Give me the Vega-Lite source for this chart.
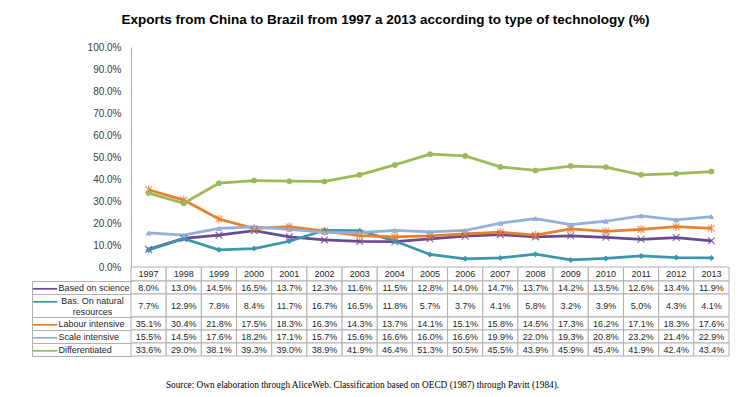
{
  "$schema": "https://vega.github.io/schema/vega-lite/v6.json",
  "background": "white",
  "padding": {"left": 31, "top": 12, "right": 5, "bottom": 5},
  "bounds": "flush",
  "spacing": 0,
  "title": {"text": "Exports from China to Brazil from 1997 a 2013 according to type of technology (%)", "font": "Liberation Sans", "fontSize": 13.5, "fontWeight": "bold", "color": "#000000", "anchor": "middle", "offset": 16, "dx": 5},
  "config": {"view": {"stroke": null}, "font": "Liberation Sans"},
  "datasets": {
    "d": [
      {"series": "Based on science", "year": "1997", "value": 0.080},
      {"series": "Based on science", "year": "1998", "value": 0.130},
      {"series": "Based on science", "year": "1999", "value": 0.145},
      {"series": "Based on science", "year": "2000", "value": 0.165},
      {"series": "Based on science", "year": "2001", "value": 0.137},
      {"series": "Based on science", "year": "2002", "value": 0.123},
      {"series": "Based on science", "year": "2003", "value": 0.116},
      {"series": "Based on science", "year": "2004", "value": 0.115},
      {"series": "Based on science", "year": "2005", "value": 0.128},
      {"series": "Based on science", "year": "2006", "value": 0.140},
      {"series": "Based on science", "year": "2007", "value": 0.147},
      {"series": "Based on science", "year": "2008", "value": 0.137},
      {"series": "Based on science", "year": "2009", "value": 0.142},
      {"series": "Based on science", "year": "2010", "value": 0.135},
      {"series": "Based on science", "year": "2011", "value": 0.126},
      {"series": "Based on science", "year": "2012", "value": 0.134},
      {"series": "Based on science", "year": "2013", "value": 0.119},
      {"series": "Bas. On natural resources", "year": "1997", "value": 0.077},
      {"series": "Bas. On natural resources", "year": "1998", "value": 0.129},
      {"series": "Bas. On natural resources", "year": "1999", "value": 0.078},
      {"series": "Bas. On natural resources", "year": "2000", "value": 0.084},
      {"series": "Bas. On natural resources", "year": "2001", "value": 0.117},
      {"series": "Bas. On natural resources", "year": "2002", "value": 0.167},
      {"series": "Bas. On natural resources", "year": "2003", "value": 0.165},
      {"series": "Bas. On natural resources", "year": "2004", "value": 0.118},
      {"series": "Bas. On natural resources", "year": "2005", "value": 0.057},
      {"series": "Bas. On natural resources", "year": "2006", "value": 0.037},
      {"series": "Bas. On natural resources", "year": "2007", "value": 0.041},
      {"series": "Bas. On natural resources", "year": "2008", "value": 0.058},
      {"series": "Bas. On natural resources", "year": "2009", "value": 0.032},
      {"series": "Bas. On natural resources", "year": "2010", "value": 0.039},
      {"series": "Bas. On natural resources", "year": "2011", "value": 0.050},
      {"series": "Bas. On natural resources", "year": "2012", "value": 0.043},
      {"series": "Bas. On natural resources", "year": "2013", "value": 0.041},
      {"series": "Labour intensive", "year": "1997", "value": 0.351},
      {"series": "Labour intensive", "year": "1998", "value": 0.304},
      {"series": "Labour intensive", "year": "1999", "value": 0.218},
      {"series": "Labour intensive", "year": "2000", "value": 0.175},
      {"series": "Labour intensive", "year": "2001", "value": 0.183},
      {"series": "Labour intensive", "year": "2002", "value": 0.163},
      {"series": "Labour intensive", "year": "2003", "value": 0.143},
      {"series": "Labour intensive", "year": "2004", "value": 0.137},
      {"series": "Labour intensive", "year": "2005", "value": 0.141},
      {"series": "Labour intensive", "year": "2006", "value": 0.151},
      {"series": "Labour intensive", "year": "2007", "value": 0.158},
      {"series": "Labour intensive", "year": "2008", "value": 0.145},
      {"series": "Labour intensive", "year": "2009", "value": 0.173},
      {"series": "Labour intensive", "year": "2010", "value": 0.162},
      {"series": "Labour intensive", "year": "2011", "value": 0.171},
      {"series": "Labour intensive", "year": "2012", "value": 0.183},
      {"series": "Labour intensive", "year": "2013", "value": 0.176},
      {"series": "Scale intensive", "year": "1997", "value": 0.155},
      {"series": "Scale intensive", "year": "1998", "value": 0.145},
      {"series": "Scale intensive", "year": "1999", "value": 0.176},
      {"series": "Scale intensive", "year": "2000", "value": 0.182},
      {"series": "Scale intensive", "year": "2001", "value": 0.171},
      {"series": "Scale intensive", "year": "2002", "value": 0.157},
      {"series": "Scale intensive", "year": "2003", "value": 0.156},
      {"series": "Scale intensive", "year": "2004", "value": 0.166},
      {"series": "Scale intensive", "year": "2005", "value": 0.160},
      {"series": "Scale intensive", "year": "2006", "value": 0.166},
      {"series": "Scale intensive", "year": "2007", "value": 0.199},
      {"series": "Scale intensive", "year": "2008", "value": 0.220},
      {"series": "Scale intensive", "year": "2009", "value": 0.193},
      {"series": "Scale intensive", "year": "2010", "value": 0.208},
      {"series": "Scale intensive", "year": "2011", "value": 0.232},
      {"series": "Scale intensive", "year": "2012", "value": 0.214},
      {"series": "Scale intensive", "year": "2013", "value": 0.229},
      {"series": "Differentiated", "year": "1997", "value": 0.336},
      {"series": "Differentiated", "year": "1998", "value": 0.290},
      {"series": "Differentiated", "year": "1999", "value": 0.381},
      {"series": "Differentiated", "year": "2000", "value": 0.393},
      {"series": "Differentiated", "year": "2001", "value": 0.390},
      {"series": "Differentiated", "year": "2002", "value": 0.389},
      {"series": "Differentiated", "year": "2003", "value": 0.419},
      {"series": "Differentiated", "year": "2004", "value": 0.464},
      {"series": "Differentiated", "year": "2005", "value": 0.513},
      {"series": "Differentiated", "year": "2006", "value": 0.505},
      {"series": "Differentiated", "year": "2007", "value": 0.455},
      {"series": "Differentiated", "year": "2008", "value": 0.439},
      {"series": "Differentiated", "year": "2009", "value": 0.459},
      {"series": "Differentiated", "year": "2010", "value": 0.454},
      {"series": "Differentiated", "year": "2011", "value": 0.419},
      {"series": "Differentiated", "year": "2012", "value": 0.424},
      {"series": "Differentiated", "year": "2013", "value": 0.434}
    ]
  },
  "vconcat": [
    {
      "width": 598,
      "height": 220,
      "data": {"name": "d"},
      "encoding": {
        "x": {"field": "year", "type": "ordinal", "scale": {"type": "band", "paddingInner": 0, "paddingOuter": 0}, "axis": {"labels": false, "ticks": false, "title": null, "domainColor": "#a6a6a6"}},
        "y": {"field": "value", "type": "quantitative", "scale": {"domain": [0, 1]}, "axis": {"format": ".1%", "values": [0, 0.1, 0.2, 0.3, 0.4, 0.5, 0.6, 0.7, 0.8, 0.9, 1], "title": null, "grid": false, "ticks": false, "labelPadding": 10, "labelFontSize": 10, "labelColor": "#404040", "domainColor": "#a6a6a6"}},
        "color": {"field": "series", "type": "nominal", "scale": {"domain": ["Based on science", "Bas. On natural resources", "Labour intensive", "Scale intensive", "Differentiated"], "range": ["#6b4a94", "#3a97ad", "#e8802e", "#94afd9", "#9bbb59"]}, "legend": null},
        "shape": {"field": "series", "type": "nominal", "scale": {"domain": ["Based on science", "Bas. On natural resources", "Labour intensive", "Scale intensive", "Differentiated"], "range": ["M-1,-1L1,1M1,-1L-1,1", "diamond", "M-1,-1L1,1M1,-1L-1,1M0,-1.3L0,1.3", "triangle-up", "circle"]}, "legend": null}
      },
      "layer": [
        {"mark": {"type": "line", "strokeWidth": 2.75}},
        {"transform": [{"filter": "datum.series == 'Based on science' || datum.series == 'Labour intensive'"}], "mark": {"type": "point", "filled": false, "strokeWidth": 1.2, "opacity": 0.8, "size": 45}},
        {"transform": [{"filter": "datum.series != 'Based on science' && datum.series != 'Labour intensive'"}], "mark": {"type": "point", "filled": true, "opacity": 1, "size": 30}}
      ]
    },
    {
      "width": 598,
      "height": 14,
      "data": {"name": "d"},
      "transform": [{"filter": "datum.series == 'Based on science'"}],
      "encoding": {
        "x": {"field": "year", "type": "ordinal", "scale": {"type": "band", "paddingInner": 0, "paddingOuter": 0}, "axis": null}
      },
      "layer": [
        {"mark": {"type": "rect", "fill": "white", "stroke": "#b0b0b0", "strokeWidth": 1}},
        {"mark": {"type": "text", "fontSize": 9, "color": "#262626", "baseline": "middle"}, "encoding": {"text": {"field": "year"}}}
      ]
    },
    {
      "width": 598,
      "height": 13,
      "data": {"name": "d"},
      "transform": [{"filter": "datum.series == 'Based on science'"}],
      "encoding": {
        "x": {"field": "year", "type": "ordinal", "scale": {"type": "band", "paddingInner": 0, "paddingOuter": 0}, "axis": null},
        "y": {"field": "series", "type": "nominal", "scale": {"type": "band", "paddingInner": 0, "paddingOuter": 0}, "axis": {"title": "━━━━", "titleColor": "#6b4a94", "titleFont": "DejaVu Sans", "titleFontSize": 10, "titleFontWeight": "normal", "titleAngle": 0, "titleAlign": "center", "titleBaseline": "middle", "titleX": 12.5, "titleY": 7.5, "offset": 99, "domainColor": "#b0b0b0", "tickColor": "#b0b0b0", "tickSize": -99, "tickBand": "extent", "labelAlign": "left", "labelBaseline": "middle", "labelPadding": 73, "labelFontSize": 9, "labelColor": "#262626"}}
      },
      "layer": [
        {"mark": {"type": "rect", "fill": "white", "stroke": "#b0b0b0", "strokeWidth": 1}},
        {"mark": {"type": "text", "fontSize": 9, "color": "#262626", "baseline": "middle"}, "encoding": {"text": {"field": "value", "format": ".1%"}}}
      ]
    },
    {
      "width": 598,
      "height": 23,
      "data": {"name": "d"},
      "transform": [{"filter": "datum.series == 'Bas. On natural resources'"}],
      "encoding": {
        "x": {"field": "year", "type": "ordinal", "scale": {"type": "band", "paddingInner": 0, "paddingOuter": 0}, "axis": null},
        "y": {"field": "series", "type": "nominal", "scale": {"type": "band", "paddingInner": 0, "paddingOuter": 0}, "axis": {"title": "━━━━", "titleColor": "#3a97ad", "titleFont": "DejaVu Sans", "titleFontSize": 10, "titleFontWeight": "normal", "titleAngle": 0, "titleAlign": "center", "titleBaseline": "middle", "titleX": 12.5, "titleY": 7.5, "offset": 99, "domainColor": "#b0b0b0", "tickColor": "#b0b0b0", "tickSize": -99, "tickBand": "extent", "labelAlign": "center", "labelBaseline": "middle", "labelPadding": 39, "labelOffset": -5.5, "labelFontSize": 9, "labelLineHeight": 11, "labelColor": "#262626", "labelExpr": "datum.value == 'Bas. On natural resources' ? ['Bas. On natural', 'resources'] : ''"}}
      },
      "layer": [
        {"mark": {"type": "rect", "fill": "white", "stroke": "#b0b0b0", "strokeWidth": 1}},
        {"mark": {"type": "text", "fontSize": 9, "color": "#262626", "baseline": "middle"}, "encoding": {"text": {"field": "value", "format": ".1%"}}}
      ]
    },
    {
      "width": 598,
      "height": 13,
      "data": {"name": "d"},
      "transform": [{"filter": "datum.series == 'Labour intensive'"}],
      "encoding": {
        "x": {"field": "year", "type": "ordinal", "scale": {"type": "band", "paddingInner": 0, "paddingOuter": 0}, "axis": null},
        "y": {"field": "series", "type": "nominal", "scale": {"type": "band", "paddingInner": 0, "paddingOuter": 0}, "axis": {"title": "━━━━", "titleColor": "#e8802e", "titleFont": "DejaVu Sans", "titleFontSize": 10, "titleFontWeight": "normal", "titleAngle": 0, "titleAlign": "center", "titleBaseline": "middle", "titleX": 12.5, "titleY": 7.5, "offset": 99, "domainColor": "#b0b0b0", "tickColor": "#b0b0b0", "tickSize": -99, "tickBand": "extent", "labelAlign": "left", "labelBaseline": "middle", "labelPadding": 73, "labelFontSize": 9, "labelColor": "#262626"}}
      },
      "layer": [
        {"mark": {"type": "rect", "fill": "white", "stroke": "#b0b0b0", "strokeWidth": 1}},
        {"mark": {"type": "text", "fontSize": 9, "color": "#262626", "baseline": "middle"}, "encoding": {"text": {"field": "value", "format": ".1%"}}}
      ]
    },
    {
      "width": 598,
      "height": 13,
      "data": {"name": "d"},
      "transform": [{"filter": "datum.series == 'Scale intensive'"}],
      "encoding": {
        "x": {"field": "year", "type": "ordinal", "scale": {"type": "band", "paddingInner": 0, "paddingOuter": 0}, "axis": null},
        "y": {"field": "series", "type": "nominal", "scale": {"type": "band", "paddingInner": 0, "paddingOuter": 0}, "axis": {"title": "━━━━", "titleColor": "#94afd9", "titleFont": "DejaVu Sans", "titleFontSize": 10, "titleFontWeight": "normal", "titleAngle": 0, "titleAlign": "center", "titleBaseline": "middle", "titleX": 12.5, "titleY": 7.5, "offset": 99, "domainColor": "#b0b0b0", "tickColor": "#b0b0b0", "tickSize": -99, "tickBand": "extent", "labelAlign": "left", "labelBaseline": "middle", "labelPadding": 73, "labelFontSize": 9, "labelColor": "#262626"}}
      },
      "layer": [
        {"mark": {"type": "rect", "fill": "white", "stroke": "#b0b0b0", "strokeWidth": 1}},
        {"mark": {"type": "text", "fontSize": 9, "color": "#262626", "baseline": "middle"}, "encoding": {"text": {"field": "value", "format": ".1%"}}}
      ]
    },
    {
      "width": 598,
      "height": 13,
      "data": {"name": "d"},
      "transform": [{"filter": "datum.series == 'Differentiated'"}],
      "encoding": {
        "x": {"field": "year", "type": "ordinal", "scale": {"type": "band", "paddingInner": 0, "paddingOuter": 0}, "axis": {"labels": false, "ticks": false, "domain": false, "title": "Source: Own elaboration through AliceWeb. Classification based on OECD (1987) through Pavitt (1984).", "titleFont": "Liberation Serif", "titleFontSize": 9.3, "titleFontWeight": "normal", "titleColor": "#000000", "titlePadding": 24, "titleX": 231, "titleAlign": "center"}},
        "y": {"field": "series", "type": "nominal", "scale": {"type": "band", "paddingInner": 0, "paddingOuter": 0}, "axis": {"title": "━━━━", "titleColor": "#9bbb59", "titleFont": "DejaVu Sans", "titleFontSize": 10, "titleFontWeight": "normal", "titleAngle": 0, "titleAlign": "center", "titleBaseline": "middle", "titleX": 12.5, "titleY": 7.5, "offset": 99, "domainColor": "#b0b0b0", "tickColor": "#b0b0b0", "tickSize": -99, "tickBand": "extent", "labelAlign": "left", "labelBaseline": "middle", "labelPadding": 73, "labelFontSize": 9, "labelColor": "#262626"}}
      },
      "layer": [
        {"mark": {"type": "rect", "fill": "white", "stroke": "#b0b0b0", "strokeWidth": 1}},
        {"mark": {"type": "text", "fontSize": 9, "color": "#262626", "baseline": "middle"}, "encoding": {"text": {"field": "value", "format": ".1%"}}}
      ]
    }
  ]
}
